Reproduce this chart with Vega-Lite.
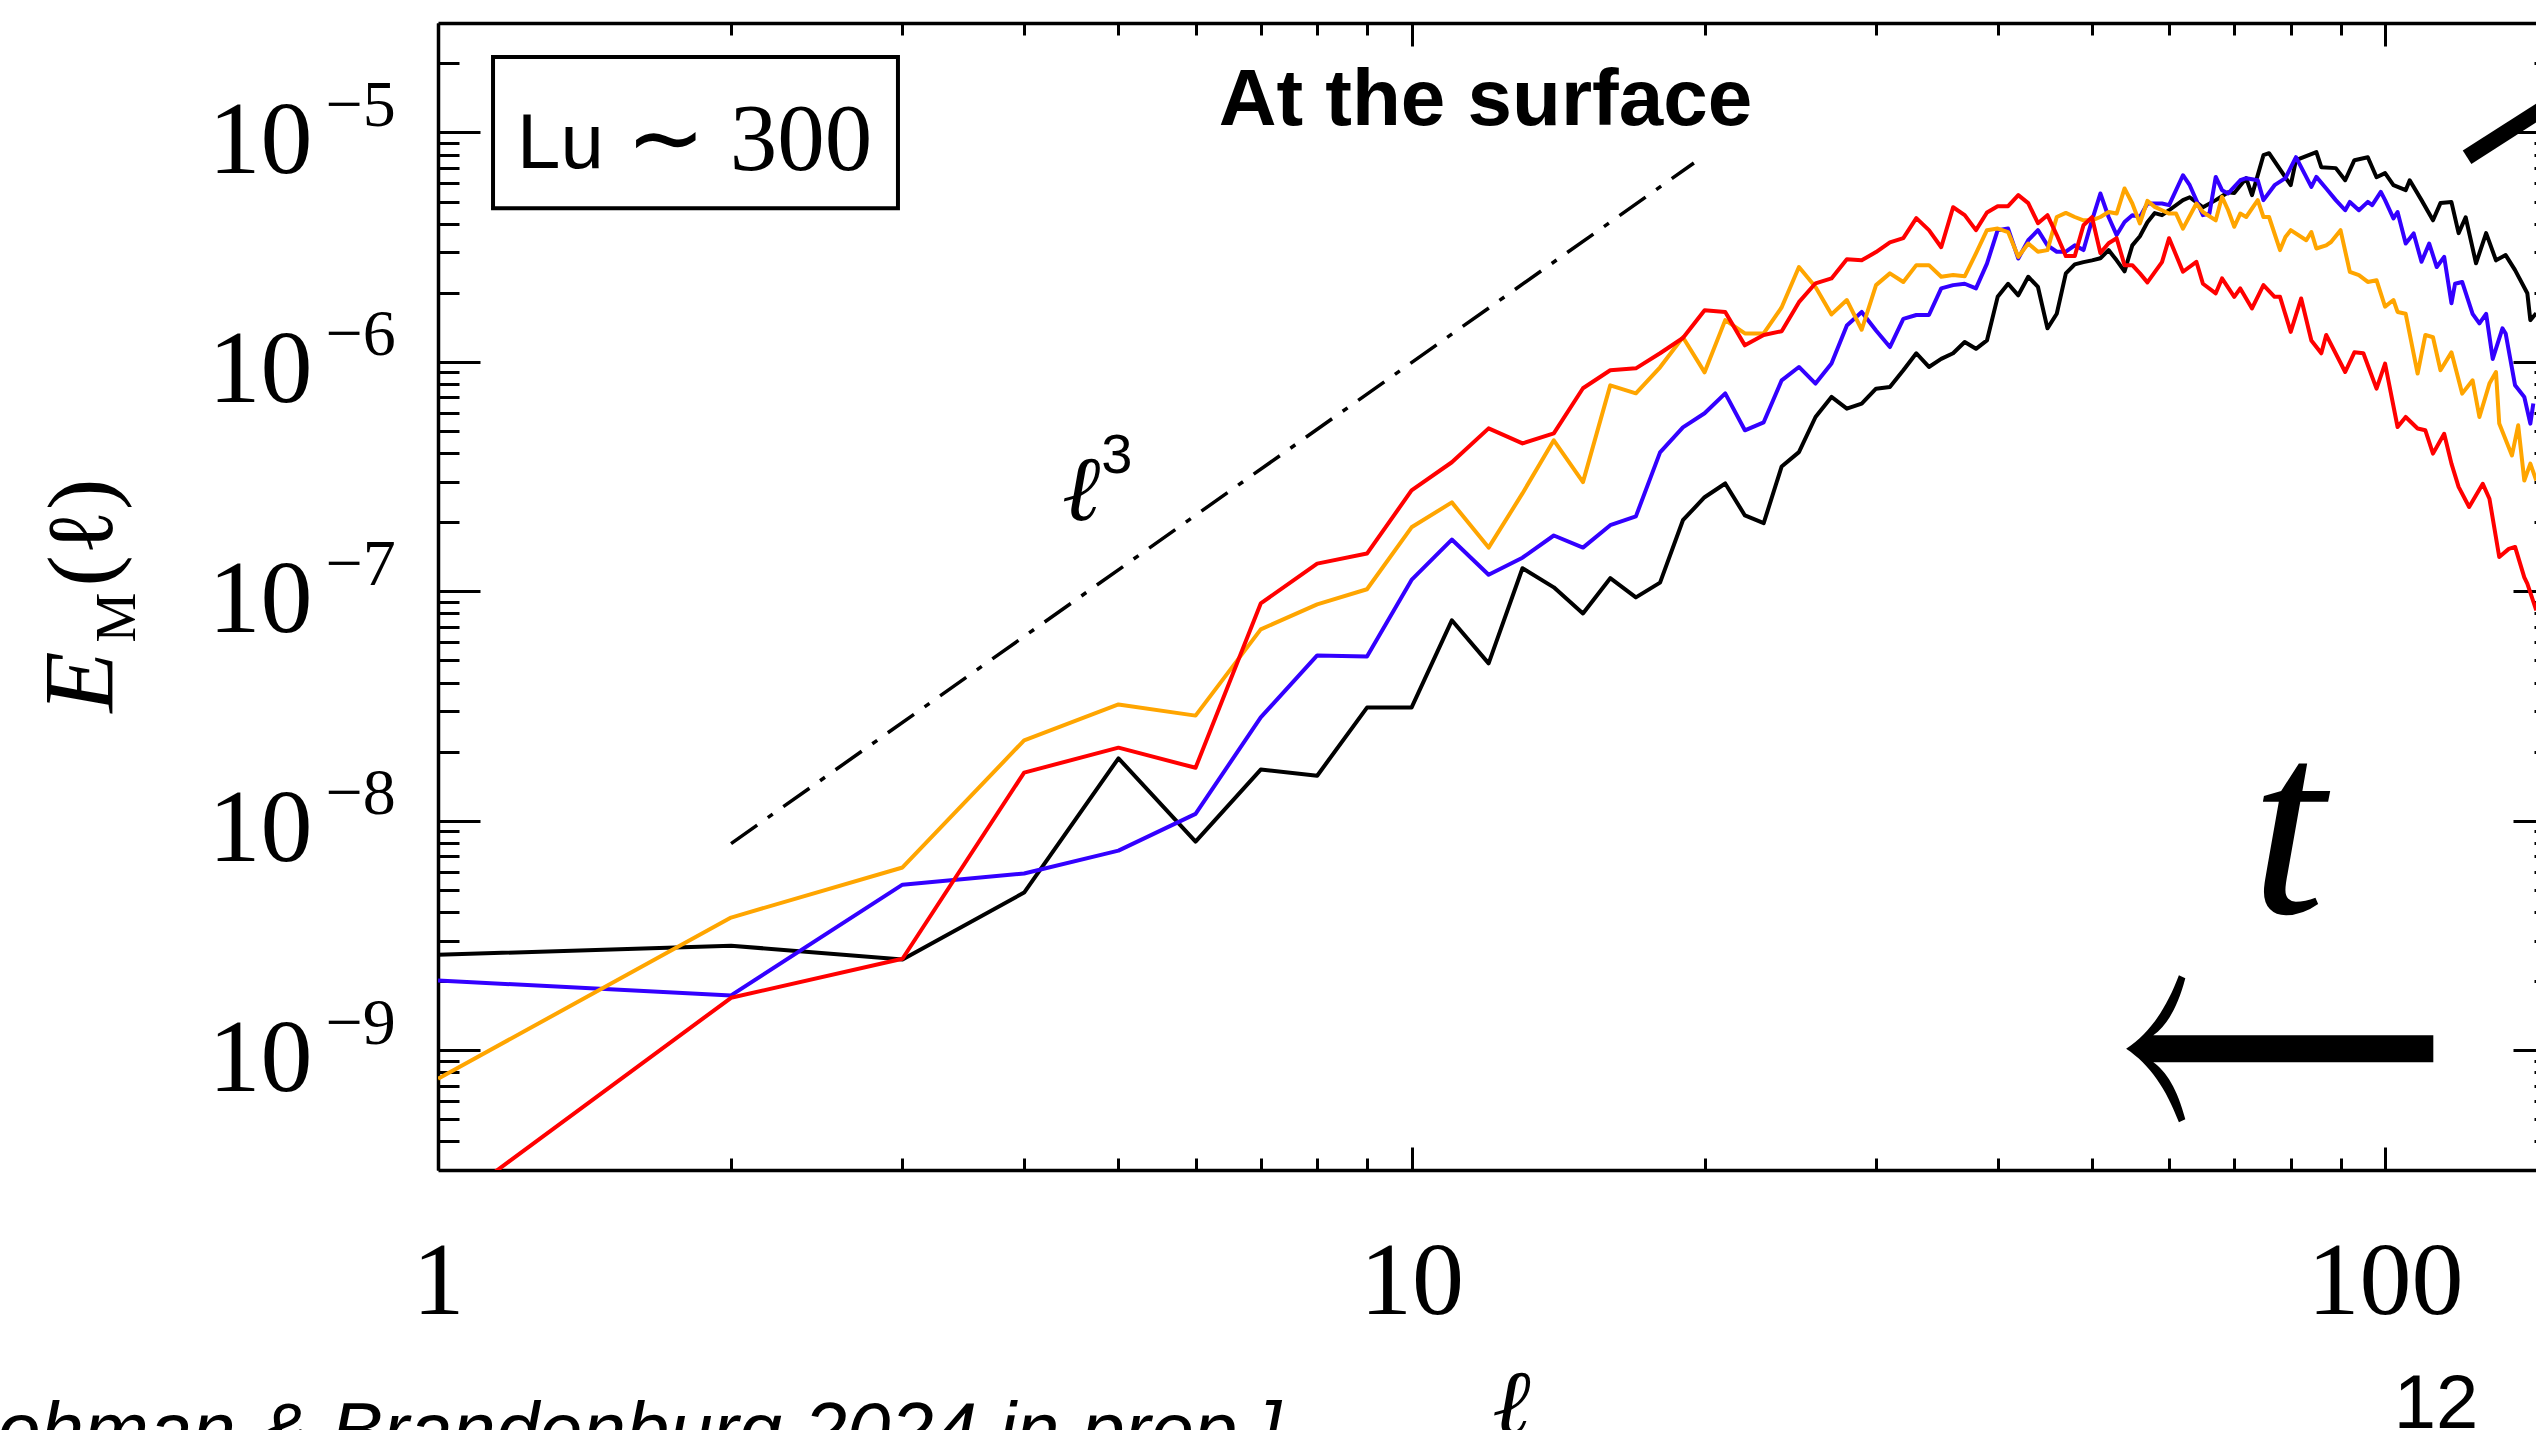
{
"$schema": "https://vega.github.io/schema/vega-lite/v6.json",
"width": 2098, "height": 1147,
"autosize": {"type": "none"},
"padding": {"left": 438, "top": 23, "right": 0, "bottom": 260},
"background": "white",
"config": {"view": {"stroke": null}, "axis": {"grid": false}},
"resolve": {"axis": {"x": "independent", "y": "independent"}},
"layer": [
{
"data": {"values": [
{"s":"black","l":1,"E":2.60e-9},{"s":"black","l":2,"E":2.85e-9},{"s":"black","l":3,"E":2.48e-9},{"s":"black","l":4,"E":4.86e-9},{"s":"black","l":5,"E":1.87e-8},{"s":"black","l":6,"E":8.10e-9},{"s":"black","l":7,"E":1.67e-8},{"s":"black","l":8,"E":1.57e-8},{"s":"black","l":9,"E":3.11e-8},{"s":"black","l":10,"E":3.11e-8},
{"s":"black","l":11,"E":7.47e-8},{"s":"black","l":12,"E":4.85e-8},{"s":"black","l":13,"E":1.26e-7},{"s":"black","l":14,"E":1.04e-7},{"s":"black","l":15,"E":8.00e-8},{"s":"black","l":16,"E":1.14e-7},{"s":"black","l":17,"E":9.40e-8},{"s":"black","l":18,"E":1.09e-7},{"s":"black","l":19,"E":2.04e-7},{"s":"black","l":20,"E":2.57e-7},
{"s":"black","l":21,"E":2.95e-7},{"s":"black","l":22,"E":2.14e-7},{"s":"black","l":23,"E":1.98e-7},{"s":"black","l":24,"E":3.50e-7},{"s":"black","l":25,"E":4.04e-7},{"s":"black","l":26,"E":5.75e-7},{"s":"black","l":27,"E":7.03e-7},{"s":"black","l":28,"E":6.25e-7},{"s":"black","l":29,"E":6.58e-7},{"s":"black","l":30,"E":7.64e-7},
{"s":"black","l":31,"E":7.77e-7},{"s":"black","l":32,"E":9.19e-7},{"s":"black","l":33,"E":1.09e-6},{"s":"black","l":34,"E":9.50e-7},{"s":"black","l":35,"E":1.03e-6},{"s":"black","l":36,"E":1.09e-6},{"s":"black","l":37,"E":1.22e-6},{"s":"black","l":38,"E":1.14e-6},{"s":"black","l":39,"E":1.24e-6},{"s":"black","l":40,"E":1.92e-6},
{"s":"black","l":41,"E":2.19e-6},{"s":"black","l":42,"E":1.95e-6},{"s":"black","l":43,"E":2.35e-6},{"s":"black","l":44,"E":2.12e-6},{"s":"black","l":45,"E":1.40e-6},{"s":"black","l":46,"E":1.62e-6},{"s":"black","l":47,"E":2.43e-6},{"s":"black","l":48,"E":2.66e-6},{"s":"black","l":49,"E":2.72e-6},{"s":"black","l":50,"E":2.77e-6},
{"s":"black","l":51,"E":2.83e-6},{"s":"black","l":52,"E":3.07e-6},{"s":"black","l":53,"E":2.77e-6},{"s":"black","l":54,"E":2.48e-6},{"s":"black","l":55,"E":3.22e-6},{"s":"black","l":56,"E":3.53e-6},{"s":"black","l":57,"E":4.06e-6},{"s":"black","l":58,"E":4.45e-6},{"s":"black","l":59,"E":4.36e-6},{"s":"black","l":60,"E":4.58e-6},
{"s":"black","l":62,"E":5.07e-6},{"s":"black","l":63,"E":5.22e-6},{"s":"black","l":65,"E":4.72e-6},{"s":"black","l":67,"E":5.07e-6},{"s":"black","l":69,"E":5.49e-6},{"s":"black","l":70,"E":5.44e-6},{"s":"black","l":72,"E":6.32e-6},{"s":"black","l":73,"E":5.33e-6},{"s":"black","l":75,"E":7.96e-6},{"s":"black","l":76,"E":8.12e-6},
{"s":"black","l":80,"E":5.89e-6},{"s":"black","l":81,"E":7.57e-6},{"s":"black","l":85,"E":8.21e-6},{"s":"black","l":86,"E":7.06e-6},{"s":"black","l":89,"E":6.99e-6},{"s":"black","l":91,"E":6.19e-6},{"s":"black","l":93,"E":7.57e-6},{"s":"black","l":96,"E":7.80e-6},{"s":"black","l":98,"E":6.38e-6},{"s":"black","l":100,"E":6.65e-6},
{"s":"black","l":102,"E":5.89e-6},{"s":"black","l":105,"E":5.60e-6},{"s":"black","l":106,"E":6.19e-6},{"s":"black","l":109,"E":5.07e-6},{"s":"black","l":112,"E":4.14e-6},{"s":"black","l":114,"E":4.92e-6},{"s":"black","l":117,"E":4.97e-6},{"s":"black","l":119,"E":3.64e-6},{"s":"black","l":121,"E":4.27e-6},{"s":"black","l":124,"E":2.69e-6},
{"s":"black","l":127,"E":3.64e-6},{"s":"black","l":130,"E":2.77e-6},{"s":"black","l":133,"E":2.92e-6},{"s":"black","l":136,"E":2.51e-6},{"s":"black","l":140,"E":1.99e-6},{"s":"black","l":141,"E":1.52e-6},{"s":"black","l":143,"E":1.63e-6},

{"s":"blue","l":1,"E":2.01e-9},{"s":"blue","l":2,"E":1.73e-9},{"s":"blue","l":3,"E":5.26e-9},{"s":"blue","l":4,"E":5.88e-9},{"s":"blue","l":5,"E":7.40e-9},{"s":"blue","l":6,"E":1.07e-8},{"s":"blue","l":7,"E":2.82e-8},{"s":"blue","l":8,"E":5.25e-8},{"s":"blue","l":9,"E":5.19e-8},{"s":"blue","l":10,"E":1.12e-7},
{"s":"blue","l":11,"E":1.68e-7},{"s":"blue","l":12,"E":1.18e-7},{"s":"blue","l":13,"E":1.40e-7},{"s":"blue","l":14,"E":1.75e-7},{"s":"blue","l":15,"E":1.55e-7},{"s":"blue","l":16,"E":1.94e-7},{"s":"blue","l":17,"E":2.12e-7},{"s":"blue","l":18,"E":4.03e-7},{"s":"blue","l":19,"E":5.18e-7},{"s":"blue","l":20,"E":5.97e-7},
{"s":"blue","l":21,"E":7.29e-7},{"s":"blue","l":22,"E":5.03e-7},{"s":"blue","l":23,"E":5.45e-7},{"s":"blue","l":24,"E":8.31e-7},{"s":"blue","l":25,"E":9.50e-7},{"s":"blue","l":26,"E":8.04e-7},{"s":"blue","l":27,"E":9.83e-7},{"s":"blue","l":28,"E":1.44e-6},{"s":"blue","l":29,"E":1.65e-6},{"s":"blue","l":30,"E":1.37e-6},
{"s":"blue","l":31,"E":1.16e-6},{"s":"blue","l":32,"E":1.54e-6},{"s":"blue","l":33,"E":1.60e-6},{"s":"blue","l":34,"E":1.60e-6},{"s":"blue","l":35,"E":2.09e-6},{"s":"blue","l":36,"E":2.16e-6},{"s":"blue","l":37,"E":2.19e-6},{"s":"blue","l":38,"E":2.09e-6},{"s":"blue","l":39,"E":2.68e-6},{"s":"blue","l":40,"E":3.75e-6},
{"s":"blue","l":41,"E":3.81e-6},{"s":"blue","l":42,"E":2.82e-6},{"s":"blue","l":43,"E":3.39e-6},{"s":"blue","l":44,"E":3.75e-6},{"s":"blue","l":45,"E":3.22e-6},{"s":"blue","l":46,"E":3.02e-6},{"s":"blue","l":47,"E":3.02e-6},{"s":"blue","l":48,"E":3.22e-6},{"s":"blue","l":49,"E":3.07e-6},{"s":"blue","l":50,"E":4.14e-6},
{"s":"blue","l":51,"E":5.42e-6},{"s":"blue","l":52,"E":4.28e-6},{"s":"blue","l":53,"E":3.57e-6},{"s":"blue","l":54,"E":4.07e-6},{"s":"blue","l":55,"E":4.36e-6},{"s":"blue","l":56,"E":4.28e-6},{"s":"blue","l":57,"E":4.90e-6},{"s":"blue","l":58,"E":4.90e-6},{"s":"blue","l":59,"E":4.90e-6},{"s":"blue","l":60,"E":4.82e-6},
{"s":"blue","l":62,"E":6.51e-6},{"s":"blue","l":63,"E":5.89e-6},{"s":"blue","l":65,"E":4.36e-6},{"s":"blue","l":66,"E":4.43e-6},{"s":"blue","l":67,"E":6.40e-6},{"s":"blue","l":68,"E":5.60e-6},{"s":"blue","l":69,"E":5.42e-6},{"s":"blue","l":71,"E":6.19e-6},{"s":"blue","l":72,"E":6.32e-6},{"s":"blue","l":74,"E":6.19e-6},
{"s":"blue","l":75,"E":5.07e-6},{"s":"blue","l":77,"E":5.89e-6},{"s":"blue","l":79,"E":6.32e-6},{"s":"blue","l":81,"E":7.80e-6},{"s":"blue","l":84,"E":5.79e-6},{"s":"blue","l":85,"E":6.40e-6},{"s":"blue","l":87,"E":5.70e-6},{"s":"blue","l":89,"E":5.07e-6},{"s":"blue","l":91,"E":4.58e-6},{"s":"blue","l":92,"E":4.98e-6},
{"s":"blue","l":94,"E":4.58e-6},{"s":"blue","l":96,"E":4.98e-6},{"s":"blue","l":97,"E":4.82e-6},{"s":"blue","l":99,"E":5.51e-6},{"s":"blue","l":100,"E":5.07e-6},{"s":"blue","l":102,"E":4.22e-6},{"s":"blue","l":103,"E":4.50e-6},{"s":"blue","l":105,"E":3.28e-6},{"s":"blue","l":107,"E":3.63e-6},{"s":"blue","l":109,"E":2.73e-6},
{"s":"blue","l":111,"E":3.28e-6},{"s":"blue","l":113,"E":2.59e-6},{"s":"blue","l":115,"E":2.87e-6},{"s":"blue","l":117,"E":1.80e-6},{"s":"blue","l":118,"E":2.19e-6},{"s":"blue","l":120,"E":2.23e-6},{"s":"blue","l":123,"E":1.62e-6},{"s":"blue","l":125,"E":1.47e-6},{"s":"blue","l":127,"E":1.62e-6},{"s":"blue","l":129,"E":1.03e-6},
{"s":"blue","l":132,"E":1.40e-6},{"s":"blue","l":133,"E":1.33e-6},{"s":"blue","l":136,"E":7.90e-7},{"s":"blue","l":139,"E":7.03e-7},{"s":"blue","l":141,"E":5.38e-7},{"s":"blue","l":142,"E":6.58e-7},

{"s":"orange","l":1,"E":7.50e-10},{"s":"orange","l":2,"E":3.78e-9},{"s":"orange","l":3,"E":6.25e-9},{"s":"orange","l":4,"E":2.24e-8},{"s":"orange","l":5,"E":3.21e-8},{"s":"orange","l":6,"E":2.87e-8},{"s":"orange","l":7,"E":6.82e-8},{"s":"orange","l":8,"E":8.77e-8},{"s":"orange","l":9,"E":1.02e-7},{"s":"orange","l":10,"E":1.90e-7},
{"s":"orange","l":11,"E":2.44e-7},{"s":"orange","l":12,"E":1.55e-7},{"s":"orange","l":13,"E":2.67e-7},{"s":"orange","l":14,"E":4.55e-7},{"s":"orange","l":15,"E":2.99e-7},{"s":"orange","l":16,"E":7.90e-7},{"s":"orange","l":17,"E":7.29e-7},{"s":"orange","l":18,"E":9.47e-7},{"s":"orange","l":19,"E":1.28e-6},{"s":"orange","l":20,"E":9.00e-7},
{"s":"orange","l":21,"E":1.52e-6},{"s":"orange","l":22,"E":1.33e-6},{"s":"orange","l":23,"E":1.33e-6},{"s":"orange","l":24,"E":1.73e-6},{"s":"orange","l":25,"E":2.59e-6},{"s":"orange","l":26,"E":2.12e-6},{"s":"orange","l":27,"E":1.61e-6},{"s":"orange","l":28,"E":1.86e-6},{"s":"orange","l":29,"E":1.38e-6},{"s":"orange","l":30,"E":2.16e-6},
{"s":"orange","l":31,"E":2.43e-6},{"s":"orange","l":32,"E":2.23e-6},{"s":"orange","l":33,"E":2.64e-6},{"s":"orange","l":34,"E":2.64e-6},{"s":"orange","l":35,"E":2.35e-6},{"s":"orange","l":36,"E":2.39e-6},{"s":"orange","l":37,"E":2.36e-6},{"s":"orange","l":38,"E":2.97e-6},{"s":"orange","l":39,"E":3.75e-6},{"s":"orange","l":40,"E":3.81e-6},
{"s":"orange","l":41,"E":3.68e-6},{"s":"orange","l":42,"E":2.87e-6},{"s":"orange","l":43,"E":3.28e-6},{"s":"orange","l":44,"E":3.02e-6},{"s":"orange","l":45,"E":3.07e-6},{"s":"orange","l":46,"E":4.28e-6},{"s":"orange","l":47,"E":4.46e-6},{"s":"orange","l":48,"E":4.28e-6},{"s":"orange","l":49,"E":4.14e-6},{"s":"orange","l":50,"E":4.14e-6},
{"s":"orange","l":51,"E":4.28e-6},{"s":"orange","l":52,"E":4.50e-6},{"s":"orange","l":53,"E":4.43e-6},{"s":"orange","l":54,"E":5.70e-6},{"s":"orange","l":55,"E":4.90e-6},{"s":"orange","l":56,"E":4.01e-6},{"s":"orange","l":57,"E":5.03e-6},{"s":"orange","l":58,"E":4.74e-6},{"s":"orange","l":59,"E":4.58e-6},{"s":"orange","l":60,"E":4.43e-6},
{"s":"orange","l":61,"E":4.43e-6},{"s":"orange","l":62,"E":3.81e-6},{"s":"orange","l":64,"E":4.90e-6},{"s":"orange","l":65,"E":4.50e-6},{"s":"orange","l":67,"E":4.14e-6},{"s":"orange","l":68,"E":5.24e-6},{"s":"orange","l":69,"E":4.58e-6},{"s":"orange","l":70,"E":3.88e-6},{"s":"orange","l":71,"E":4.43e-6},{"s":"orange","l":72,"E":4.28e-6},
{"s":"orange","l":74,"E":5.07e-6},{"s":"orange","l":75,"E":4.28e-6},{"s":"orange","l":76,"E":4.28e-6},{"s":"orange","l":78,"E":3.07e-6},{"s":"orange","l":79,"E":3.50e-6},{"s":"orange","l":80,"E":3.75e-6},{"s":"orange","l":83,"E":3.39e-6},{"s":"orange","l":84,"E":3.68e-6},{"s":"orange","l":85,"E":3.12e-6},{"s":"orange","l":87,"E":3.22e-6},
{"s":"orange","l":88,"E":3.33e-6},{"s":"orange","l":90,"E":3.75e-6},{"s":"orange","l":92,"E":2.47e-6},{"s":"orange","l":94,"E":2.39e-6},{"s":"orange","l":96,"E":2.23e-6},{"s":"orange","l":98,"E":2.27e-6},{"s":"orange","l":100,"E":1.74e-6},{"s":"orange","l":102,"E":1.86e-6},{"s":"orange","l":103,"E":1.65e-6},{"s":"orange","l":105,"E":1.62e-6},
{"s":"orange","l":108,"E":8.89e-7},{"s":"orange","l":110,"E":1.31e-6},{"s":"orange","l":112,"E":1.28e-6},{"s":"orange","l":114,"E":9.19e-7},{"s":"orange","l":117,"E":1.10e-6},{"s":"orange","l":120,"E":7.27e-7},{"s":"orange","l":123,"E":8.31e-7},{"s":"orange","l":125,"E":5.75e-7},{"s":"orange","l":128,"E":8.04e-7},{"s":"orange","l":130,"E":9.03e-7},
{"s":"orange","l":131,"E":5.38e-7},{"s":"orange","l":135,"E":3.91e-7},{"s":"orange","l":137,"E":5.29e-7},{"s":"orange","l":139,"E":3.04e-7},{"s":"orange","l":141,"E":3.60e-7},{"s":"orange","l":143,"E":3.04e-7},

{"s":"red","l":1,"E":1.93e-10},{"s":"red","l":2,"E":1.69e-9},{"s":"red","l":3,"E":2.50e-9},{"s":"red","l":4,"E":1.62e-8},{"s":"red","l":5,"E":2.08e-8},{"s":"red","l":6,"E":1.70e-8},{"s":"red","l":7,"E":8.85e-8},{"s":"red","l":8,"E":1.32e-7},{"s":"red","l":9,"E":1.46e-7},{"s":"red","l":10,"E":2.75e-7},
{"s":"red","l":11,"E":3.65e-7},{"s":"red","l":12,"E":5.13e-7},{"s":"red","l":13,"E":4.41e-7},{"s":"red","l":14,"E":4.88e-7},{"s":"red","l":15,"E":7.67e-7},{"s":"red","l":16,"E":9.19e-7},{"s":"red","l":17,"E":9.37e-7},{"s":"red","l":18,"E":1.09e-6},{"s":"red","l":19,"E":1.27e-6},{"s":"red","l":20,"E":1.68e-6},
{"s":"red","l":21,"E":1.65e-6},{"s":"red","l":22,"E":1.18e-6},{"s":"red","l":23,"E":1.31e-6},{"s":"red","l":24,"E":1.36e-6},{"s":"red","l":25,"E":1.82e-6},{"s":"red","l":26,"E":2.20e-6},{"s":"red","l":27,"E":2.31e-6},{"s":"red","l":28,"E":2.80e-6},{"s":"red","l":29,"E":2.77e-6},{"s":"red","l":30,"E":3.01e-6},
{"s":"red","l":31,"E":3.32e-6},{"s":"red","l":32,"E":3.46e-6},{"s":"red","l":33,"E":4.23e-6},{"s":"red","l":34,"E":3.75e-6},{"s":"red","l":35,"E":3.16e-6},{"s":"red","l":36,"E":4.72e-6},{"s":"red","l":37,"E":4.36e-6},{"s":"red","l":38,"E":3.75e-6},{"s":"red","l":39,"E":4.48e-6},{"s":"red","l":40,"E":4.77e-6},
{"s":"red","l":41,"E":4.77e-6},{"s":"red","l":42,"E":5.33e-6},{"s":"red","l":43,"E":4.92e-6},{"s":"red","l":44,"E":4.02e-6},{"s":"red","l":45,"E":4.36e-6},{"s":"red","l":46,"E":3.57e-6},{"s":"red","l":47,"E":2.89e-6},{"s":"red","l":48,"E":2.89e-6},{"s":"red","l":49,"E":3.94e-6},{"s":"red","l":50,"E":4.27e-6},
{"s":"red","l":51,"E":2.98e-6},{"s":"red","l":52,"E":3.29e-6},{"s":"red","l":53,"E":3.46e-6},{"s":"red","l":54,"E":2.64e-6},{"s":"red","l":55,"E":2.64e-6},{"s":"red","l":56,"E":2.43e-6},{"s":"red","l":57,"E":2.22e-6},{"s":"red","l":58,"E":2.46e-6},{"s":"red","l":59,"E":2.72e-6},{"s":"red","l":60,"E":3.46e-6},
{"s":"red","l":62,"E":2.47e-6},{"s":"red","l":64,"E":2.73e-6},{"s":"red","l":65,"E":2.19e-6},{"s":"red","l":67,"E":1.99e-6},{"s":"red","l":68,"E":2.31e-6},{"s":"red","l":70,"E":1.92e-6},{"s":"red","l":71,"E":2.09e-6},{"s":"red","l":73,"E":1.71e-6},{"s":"red","l":75,"E":2.16e-6},{"s":"red","l":77,"E":1.92e-6},
{"s":"red","l":78,"E":1.92e-6},{"s":"red","l":80,"E":1.35e-6},{"s":"red","l":82,"E":1.89e-6},{"s":"red","l":84,"E":1.24e-6},{"s":"red","l":86,"E":1.09e-6},{"s":"red","l":87,"E":1.31e-6},{"s":"red","l":91,"E":9.03e-7},{"s":"red","l":93,"E":1.10e-6},{"s":"red","l":95,"E":1.09e-6},{"s":"red","l":98,"E":7.64e-7},
{"s":"red","l":100,"E":9.83e-7},{"s":"red","l":103,"E":5.20e-7},{"s":"red","l":105,"E":5.75e-7},{"s":"red","l":108,"E":5.12e-7},{"s":"red","l":110,"E":5.03e-7},{"s":"red","l":112,"E":3.98e-7},{"s":"red","l":115,"E":4.86e-7},{"s":"red","l":117,"E":3.60e-7},{"s":"red","l":119,"E":2.85e-7},{"s":"red","l":122,"E":2.33e-7},
{"s":"red","l":126,"E":2.94e-7},{"s":"red","l":128,"E":2.53e-7},{"s":"red","l":131,"E":1.41e-7},{"s":"red","l":134,"E":1.53e-7},{"s":"red","l":136,"E":1.56e-7},{"s":"red","l":139,"E":1.15e-7},{"s":"red","l":140,"E":1.08e-7},{"s":"red","l":143,"E":8.25e-8}
]},
"mark": {"type": "line", "clip": true, "strokeWidth": 4, "strokeJoin": "round"},
"encoding": {
"x": {"field": "l", "type": "quantitative", "scale": {"type": "log", "domain": [1, 142.9], "nice": false},
 "axis": {"orient": "bottom", "values": [1, 10, 100], "tickSize": -23, "tickWidth": 3, "tickColor": "black", "domain": true, "domainColor": "black", "domainWidth": 3.5, "labelExpr": "datum.value < 5 ? '1' : datum.value < 50 ? '10' : '100'", "labelFont": "Liberation Serif", "labelFontSize": 104, "labelColor": "black", "labelBaseline": "alphabetic", "labelAlign": "center", "labelPadding": 166, "labelFlush": false, "labelOverlap": false, "labelBound": false, "title": null, "grid": false}},
"y": {"field": "E", "type": "quantitative", "scale": {"type": "log", "domain": [3e-10, 3e-5], "nice": false},
 "axis": {"orient": "left", "values": [1e-9, 1e-8, 1e-7, 1e-6, 1e-5], "tickSize": -42, "tickWidth": 3, "tickColor": "black", "domain": true, "domainColor": "black", "domainWidth": 3.5, "labelExpr": "'10'", "labelFont": "Liberation Serif", "labelFontSize": 104, "labelColor": "black", "labelAlign": "right", "labelBaseline": "alphabetic", "labelPadding": 168, "labelOffset": 40, "labelFlush": false, "labelOverlap": false, "labelBound": false, "title": null, "grid": false}},
"color": {"field": "s", "type": "nominal", "scale": {"domain": ["black", "blue", "orange", "red"], "range": ["#000000", "#3300ff", "#ffa500", "#ff0000"]}, "legend": null}
}
},
{
"data": {"values": [{"l": 2, "E": 7.94e-9}, {"l": 19.5, "E": 7.36e-6}]},
"mark": {"type": "line", "color": "black", "strokeWidth": 3.5, "strokeDash": [32, 13, 6, 13]},
"encoding": {
"x": {"field": "l", "type": "quantitative", "scale": {"type": "log", "domain": [1, 142.9], "nice": false},
 "axis": {"orient": "bottom", "values": [2, 3, 4, 5, 6, 7, 8, 9, 20, 30, 40, 50, 60, 70, 80, 90], "tickSize": -12, "tickWidth": 3, "tickColor": "black", "domain": false, "labels": false, "title": null, "grid": false}},
"y": {"field": "E", "type": "quantitative", "scale": {"type": "log", "domain": [3e-10, 3e-5], "nice": false},
 "axis": {"orient": "left", "values": [4e-10, 5e-10, 6e-10, 7e-10, 8e-10, 9e-10, 2e-9, 3e-9, 4e-9, 5e-9, 6e-9, 7e-9, 8e-9, 9e-9, 2e-8, 3e-8, 4e-8, 5e-8, 6e-8, 7e-8, 8e-8, 9e-8, 2e-7, 3e-7, 4e-7, 5e-7, 6e-7, 7e-7, 8e-7, 9e-7, 2e-6, 3e-6, 4e-6, 5e-6, 6e-6, 7e-6, 8e-6, 9e-6, 2e-5], "tickSize": -21, "tickWidth": 3, "tickColor": "black", "domain": false, "labels": false, "title": null, "grid": false}}
}
},
{
"data": {"values": [{"x1": 1.139, "x2": 2.968, "y1": 2.131e-5, "y2": 4.674e-6}]},
"mark": {"type": "rect", "fillOpacity": 0, "stroke": "black", "strokeWidth": 4},
"encoding": {
"x": {"field": "x1", "type": "quantitative", "scale": {"type": "log", "domain": [1, 142.9], "nice": false},
 "axis": {"orient": "top", "values": [1, 10, 100], "tickSize": -23, "tickWidth": 3, "tickColor": "black", "domain": true, "domainColor": "black", "domainWidth": 3.5, "labels": false, "title": null, "grid": false}},
"x2": {"field": "x2"},
"y": {"field": "y1", "type": "quantitative", "scale": {"type": "log", "domain": [3e-10, 3e-5], "nice": false},
 "axis": {"orient": "right", "offset": 19, "values": [1e-9, 1e-8, 1e-7, 1e-6, 1e-5], "tickSize": -42, "tickWidth": 3, "tickColor": "black", "domain": true, "domainColor": "black", "domainWidth": 3.5, "labels": false, "title": null, "grid": false}},
"y2": {"field": "y2"}
}
},
{
"data": {"values": [{"txt": "Lu", "l": 1.2055, "E": 6.987e-6}]},
"mark": {"type": "text", "font": "Liberation Sans", "fontSize": 78, "align": "left", "baseline": "alphabetic", "color": "black"},
"encoding": {
"x": {"field": "l", "type": "quantitative", "scale": {"type": "log", "domain": [1, 142.9], "nice": false},
 "axis": {"orient": "top", "values": [2, 3, 4, 5, 6, 7, 8, 9, 20, 30, 40, 50, 60, 70, 80, 90], "tickSize": -12, "tickWidth": 3, "tickColor": "black", "domain": false, "labels": false, "title": null, "grid": false}},
"y": {"field": "E", "type": "quantitative", "scale": {"type": "log", "domain": [3e-10, 3e-5], "nice": false},
 "axis": {"orient": "right", "offset": 19, "values": [4e-10, 5e-10, 6e-10, 7e-10, 8e-10, 9e-10, 2e-9, 3e-9, 4e-9, 5e-9, 6e-9, 7e-9, 8e-9, 9e-9, 2e-8, 3e-8, 4e-8, 5e-8, 6e-8, 7e-8, 8e-8, 9e-8, 2e-7, 3e-7, 4e-7, 5e-7, 6e-7, 7e-7, 8e-7, 9e-7, 2e-6, 3e-6, 4e-6, 5e-6, 6e-6, 7e-6, 8e-6, 9e-6, 2e-5], "tickSize": -21, "tickWidth": 3, "tickColor": "black", "domain": false, "labels": false, "title": null, "grid": false}},
"text": {"field": "txt"}
}
},
{
"data": {"values": [{"txt": "∼ 300", "l": 1.560, "E": 6.848e-6}]},
"mark": {"type": "text", "font": "Liberation Serif", "fontSize": 95, "align": "left", "baseline": "alphabetic", "color": "black"},
"encoding": {
"x": {"field": "l", "type": "quantitative", "scale": {"type": "log", "domain": [1, 142.9], "nice": false}, "axis": null},
"y": {"field": "E", "type": "quantitative", "scale": {"type": "log", "domain": [3e-10, 3e-5], "nice": false},
 "axis": {"orient": "left", "values": [1e-9, 1e-8, 1e-7, 1e-6, 1e-5], "ticks": true, "tickSize": 0, "tickOpacity": 0, "tickWidth": 0, "domain": false, "labelExpr": "datum.value < 3e-9 ? '−9' : datum.value < 3e-8 ? '−8' : datum.value < 3e-7 ? '−7' : datum.value < 3e-6 ? '−6' : '−5'", "labelFont": "Liberation Serif", "labelFontSize": 66, "labelColor": "black", "labelAlign": "left", "labelBaseline": "alphabetic", "labelPadding": 113, "labelOffset": -7, "labelFlush": false, "labelOverlap": false, "labelBound": false, "title": null, "grid": false}},
"text": {"field": "txt"}
}
},
{
"data": {"values": [{"txt": "At the surface", "l": 11.91, "E": 1.076e-5}]},
"mark": {"type": "text", "font": "Liberation Sans", "fontWeight": "bold", "fontSize": 80, "align": "center", "baseline": "alphabetic", "color": "black"},
"encoding": {
"x": {"field": "l", "type": "quantitative", "scale": {"type": "log", "domain": [1, 142.9], "nice": false}, "axis": null},
"y": {"field": "E", "type": "quantitative", "scale": {"type": "log", "domain": [3e-10, 3e-5], "nice": false}, "axis": null},
"text": {"field": "txt"}
}
},
{
"data": {"values": [{"txt": "ℓ", "l": 4.375, "E": 2.036e-7}, {"txt": "ℓ", "l": 12.1, "E": 2.12e-11}]},
"mark": {"type": "text", "font": "Liberation Serif", "fontStyle": "italic", "fontSize": 92, "align": "left", "baseline": "alphabetic", "color": "black"},
"encoding": {
"x": {"field": "l", "type": "quantitative", "scale": {"type": "log", "domain": [1, 142.9], "nice": false}, "axis": null},
"y": {"field": "E", "type": "quantitative", "scale": {"type": "log", "domain": [3e-10, 3e-5], "nice": false}, "axis": null},
"text": {"field": "txt"}
}
},
{
"data": {"values": [{"txt": "3", "l": 4.80, "E": 3.265e-7}]},
"mark": {"type": "text", "font": "Liberation Sans", "fontSize": 56, "align": "left", "baseline": "alphabetic", "color": "black"},
"encoding": {
"x": {"field": "l", "type": "quantitative", "scale": {"type": "log", "domain": [1, 142.9], "nice": false}, "axis": null},
"y": {"field": "E", "type": "quantitative", "scale": {"type": "log", "domain": [3e-10, 3e-5], "nice": false}, "axis": null},
"text": {"field": "txt"}
}
},
{
"data": {"values": [{"txt": "t", "l": 79.5, "E": 3.974e-9}]},
"mark": {"type": "text", "font": "Liberation Serif", "fontStyle": "italic", "fontSize": 265, "align": "center", "baseline": "alphabetic", "color": "black"},
"encoding": {
"x": {"field": "l", "type": "quantitative", "scale": {"type": "log", "domain": [1, 142.9], "nice": false}, "axis": null},
"y": {"field": "E", "type": "quantitative", "scale": {"type": "log", "domain": [3e-10, 3e-5], "nice": false}, "axis": null},
"text": {"field": "txt"}
}
},
{
"data": {"values": [{"l": 77.65, "E": 1.013e-9}]},
"mark": {"type": "point", "filled": true, "color": "black", "opacity": 1, "size": 102400, "shape": "M -0.95 0 C -0.8 -0.1 -0.7 -0.25 -0.62 -0.46 L -0.58 -0.44 C -0.63 -0.25 -0.7 -0.14 -0.78 -0.084 L 0.97 -0.084 L 0.97 0.084 L -0.78 0.084 C -0.7 0.14 -0.63 0.25 -0.58 0.44 L -0.62 0.46 C -0.7 0.25 -0.8 0.1 -0.95 0 Z"},
"encoding": {
"x": {"field": "l", "type": "quantitative", "scale": {"type": "log", "domain": [1, 142.9], "nice": false}, "axis": null},
"y": {"field": "E", "type": "quantitative", "scale": {"type": "log", "domain": [3e-10, 3e-5], "nice": false}, "axis": null}
}
},
{
"data": {"values": [{"l1": 121.4, "E1": 7.8e-6, "l2": 166.3, "E2": 1.832e-5}]},
"mark": {"type": "rule", "color": "black", "strokeWidth": 16, "strokeCap": "butt"},
"encoding": {
"x": {"field": "l1", "type": "quantitative", "scale": {"type": "log", "domain": [1, 142.9], "nice": false}, "axis": null},
"x2": {"field": "l2"},
"y": {"field": "E1", "type": "quantitative", "scale": {"type": "log", "domain": [3e-10, 3e-5], "nice": false}, "axis": null},
"y2": {"field": "E2"}
}
},
{
"data": {"values": [{"txt": "E", "l": 0.4626, "E": 2.958e-8}]},
"mark": {"type": "text", "font": "Liberation Serif", "fontStyle": "italic", "fontSize": 100, "angle": 270, "align": "left", "baseline": "alphabetic", "color": "black"},
"encoding": {
"x": {"field": "l", "type": "quantitative", "scale": {"type": "log", "domain": [1, 142.9], "nice": false}, "axis": null},
"y": {"field": "E", "type": "quantitative", "scale": {"type": "log", "domain": [3e-10, 3e-5], "nice": false}, "axis": null},
"text": {"field": "txt"}
}
},
{
"data": {"values": [{"txt": "M", "l": 0.4884, "E": 5.976e-8}]},
"mark": {"type": "text", "font": "Liberation Serif", "fontSize": 56, "angle": 270, "align": "left", "baseline": "alphabetic", "color": "black"},
"encoding": {
"x": {"field": "l", "type": "quantitative", "scale": {"type": "log", "domain": [1, 142.9], "nice": false}, "axis": null},
"y": {"field": "E", "type": "quantitative", "scale": {"type": "log", "domain": [3e-10, 3e-5], "nice": false}, "axis": null},
"text": {"field": "txt"}
}
},
{
"data": {"values": [{"txt": "(ℓ)", "l": 0.4626, "E": 1.05e-7}]},
"mark": {"type": "text", "font": "Liberation Serif", "fontSize": 94, "angle": 270, "align": "left", "baseline": "alphabetic", "color": "black"},
"encoding": {
"x": {"field": "l", "type": "quantitative", "scale": {"type": "log", "domain": [1, 142.9], "nice": false}, "axis": null},
"y": {"field": "E", "type": "quantitative", "scale": {"type": "log", "domain": [3e-10, 3e-5], "nice": false}, "axis": null},
"text": {"field": "txt"}
}
},
{
"data": {"values": [{"txt": "ohman & Brandenburg 2024 in prep.]", "l": 0.3524, "E": 1.683e-11}]},
"mark": {"type": "text", "font": "Liberation Sans", "fontStyle": "italic", "fontSize": 78, "align": "left", "baseline": "alphabetic", "color": "black"},
"encoding": {
"x": {"field": "l", "type": "quantitative", "scale": {"type": "log", "domain": [1, 142.9], "nice": false}, "axis": null},
"y": {"field": "E", "type": "quantitative", "scale": {"type": "log", "domain": [3e-10, 3e-5], "nice": false}, "axis": null},
"text": {"field": "txt"}
}
},
{
"data": {"values": [{"txt": "12", "l": 112.8, "E": 2.25e-11}]},
"mark": {"type": "text", "font": "Liberation Sans", "fontSize": 76, "align": "center", "baseline": "alphabetic", "color": "black"},
"encoding": {
"x": {"field": "l", "type": "quantitative", "scale": {"type": "log", "domain": [1, 142.9], "nice": false}, "axis": null},
"y": {"field": "E", "type": "quantitative", "scale": {"type": "log", "domain": [3e-10, 3e-5], "nice": false}, "axis": null},
"text": {"field": "txt"}
}
}
]
}
